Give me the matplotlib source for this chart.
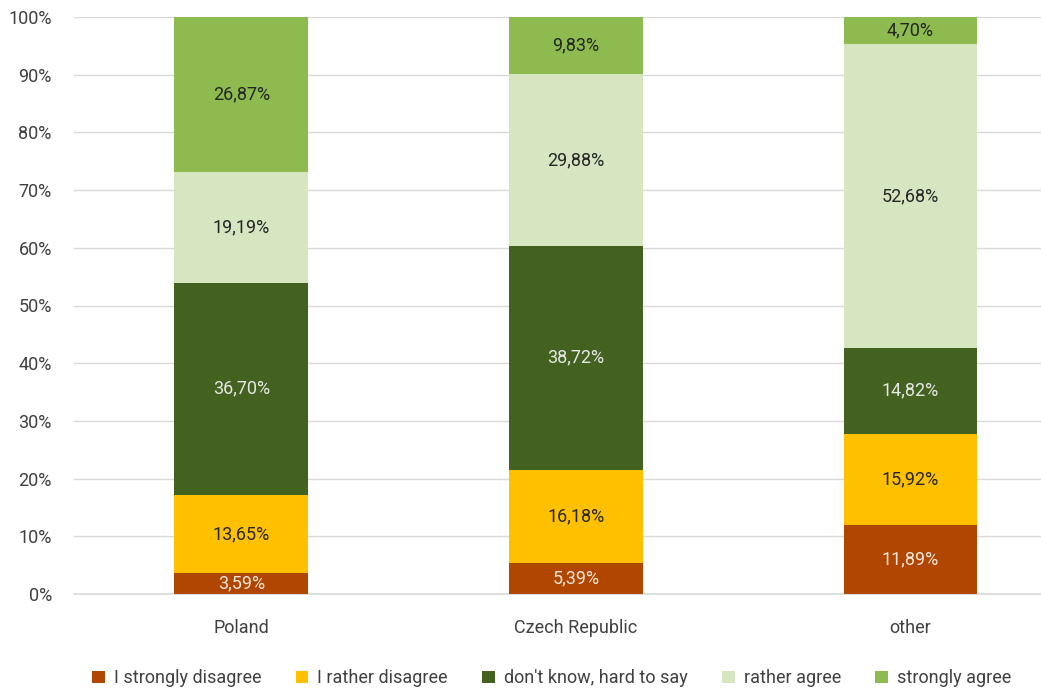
import matplotlib.pyplot as plt
import numpy as np

plt.rcParams['font.family'] = ['Roboto', 'DejaVu Sans']

# dane
categories = ['Poland', 'Czech Republic', 'other']
series_names = ['I strongly disagree', 'I rather disagree', "don't know, hard to say",
                'rather agree', 'strongly agree']
strongly_disagree = [3.59, 5.39, 11.89]
rather_disagree = [13.65, 16.18, 15.92]
dont_know = [36.70, 38.72, 14.82]
rather_agree = [19.19, 29.88, 52.68]
strongly_agree = [26.87, 9.83, 4.70]
y_ticks = [0, 10, 20, 30, 40, 50, 60, 70, 80, 90, 100]

series = [strongly_disagree, rather_disagree, dont_know, rather_agree, strongly_agree]
colors = ['#B04600', '#FFC000', '#43611F', '#D5E6C0', '#8DBB50']
text_colors = ['#F0E6DC', '#262626', '#E6E6E6', '#262626', '#262626']

fig = plt.figure(figsize=(10.41, 6.93), dpi=100)
ax = fig.add_axes([74 / 1041, 1 - 594 / 693, 1 - 74 / 1041, (594 - 17) / 693])

x = np.arange(len(categories))
bottom = np.zeros(len(categories))
for vals, name, col, tcol in zip(series, series_names, colors, text_colors):
    vals = np.array(vals)
    ax.bar(x, vals, 0.4, bottom=bottom, color=col, label=name, zorder=3)
    for xi, b, v in zip(x, bottom, vals):
        txt = f'{v:.2f}'.replace('.', ',') + '%'
        ax.text(xi, b + v / 2, txt, ha='center', va='center', color=tcol,
                fontsize=13, zorder=4)
    bottom += vals

ax.set_xlim(-0.5, 2.39)
ax.set_ylim(0, 100)
ax.set_yticks(y_ticks)
ax.set_yticklabels([f'{t}%' for t in y_ticks])
ax.set_xticks(x)
ax.set_xticklabels(categories)
ax.tick_params(axis='both', length=0, labelsize=13, colors='#404040')
ax.tick_params(axis='x', pad=18)
ax.tick_params(axis='y', pad=16)
ax.grid(axis='y', color='#D9D9D9', linewidth=1, zorder=0)
for s in ['top', 'right', 'left']:
    ax.spines[s].set_visible(False)
ax.spines['bottom'].set_color('#D9D9D9')
ax.spines['bottom'].set_linewidth(1.2)

fig.legend(loc='lower center', bbox_to_anchor=(0.53, -0.015), ncol=5, frameon=False,
           fontsize=13, handlelength=0.7, handleheight=0.7, columnspacing=1.9,
           handletextpad=0.5, labelcolor='#404040')

fig.savefig('out.png', dpi=100)
